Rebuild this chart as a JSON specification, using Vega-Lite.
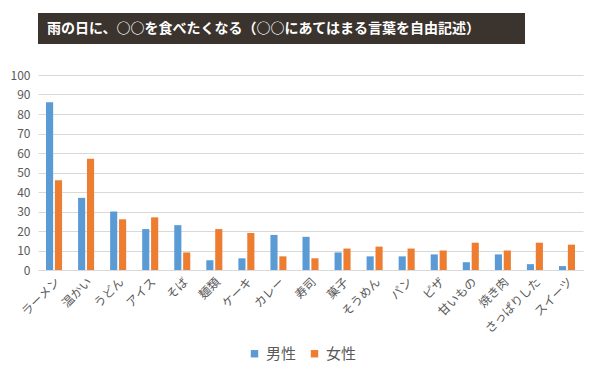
{
  "$schema": "https://vega.github.io/schema/vega-lite/v6.json",
  "padding": {"left": 10, "top": 13, "right": 5, "bottom": 5},
  "background": "#ffffff",
  "config": {
    "font": "Noto Sans CJK JP",
    "view": {"stroke": null}
  },
  "spacing": 25,
  "vconcat": [
    {
      "width": 487,
      "height": 31,
      "view": {"fill": "#3b332e", "stroke": null},
      "data": {"values": [{"t": "雨の日に、○○を食べたくなる（○○にあてはまる言葉を自由記述）"}]},
      "mark": {"type": "text", "align": "left", "baseline": "middle", "color": "#ffffff", "fontSize": 14, "fontWeight": "bold"},
      "encoding": {
        "text": {"field": "t", "type": "nominal"},
        "x": {"value": 9}
      }
    },
    {
      "width": 545,
      "height": 195,
      "data": {"values": [
        {"item": "ラーメン", "gender": "男性", "value": 86},
        {"item": "ラーメン", "gender": "女性", "value": 46},
        {"item": "温かい", "gender": "男性", "value": 37},
        {"item": "温かい", "gender": "女性", "value": 57},
        {"item": "うどん", "gender": "男性", "value": 30},
        {"item": "うどん", "gender": "女性", "value": 26},
        {"item": "アイス", "gender": "男性", "value": 21},
        {"item": "アイス", "gender": "女性", "value": 27},
        {"item": "そば", "gender": "男性", "value": 23},
        {"item": "そば", "gender": "女性", "value": 9},
        {"item": "麺類", "gender": "男性", "value": 5},
        {"item": "麺類", "gender": "女性", "value": 21},
        {"item": "ケーキ", "gender": "男性", "value": 6},
        {"item": "ケーキ", "gender": "女性", "value": 19},
        {"item": "カレー", "gender": "男性", "value": 18},
        {"item": "カレー", "gender": "女性", "value": 7},
        {"item": "寿司", "gender": "男性", "value": 17},
        {"item": "寿司", "gender": "女性", "value": 6},
        {"item": "菓子", "gender": "男性", "value": 9},
        {"item": "菓子", "gender": "女性", "value": 11},
        {"item": "そうめん", "gender": "男性", "value": 7},
        {"item": "そうめん", "gender": "女性", "value": 12},
        {"item": "パン", "gender": "男性", "value": 7},
        {"item": "パン", "gender": "女性", "value": 11},
        {"item": "ピザ", "gender": "男性", "value": 8},
        {"item": "ピザ", "gender": "女性", "value": 10},
        {"item": "甘いもの", "gender": "男性", "value": 4},
        {"item": "甘いもの", "gender": "女性", "value": 14},
        {"item": "焼き肉", "gender": "男性", "value": 8},
        {"item": "焼き肉", "gender": "女性", "value": 10},
        {"item": "さっぱりした", "gender": "男性", "value": 3},
        {"item": "さっぱりした", "gender": "女性", "value": 14},
        {"item": "スイーツ", "gender": "男性", "value": 2},
        {"item": "スイーツ", "gender": "女性", "value": 13}
      ]},
      "mark": {"type": "bar"},
      "encoding": {
        "x": {
          "field": "item", "type": "nominal", "sort": null,
          "scale": {"paddingInner": 0.5, "paddingOuter": 0.25},
          "axis": {"title": null, "labelAngle": -45, "labelFontSize": 12, "labelColor": "#595959", "ticks": false, "domainColor": "#d9d9d9", "labelPadding": 6}
        },
        "xOffset": {"field": "gender", "type": "nominal", "sort": ["男性", "女性"], "scale": {"paddingInner": 0.2}},
        "y": {
          "field": "value", "type": "quantitative",
          "scale": {"domain": [0, 100]},
          "axis": {"title": null, "values": [0, 10, 20, 30, 40, 50, 60, 70, 80, 90, 100], "domain": false, "ticks": false, "gridColor": "#d9d9d9", "labelColor": "#595959", "labelFontSize": 12, "labelPadding": 8}
        },
        "color": {
          "field": "gender", "type": "nominal", "sort": ["男性", "女性"],
          "scale": {"range": ["#5B9BD5", "#ED7D31"]},
          "legend": {"orient": "none", "legendX": 209, "legendY": 333, "direction": "horizontal", "title": null, "symbolType": "square", "symbolSize": 55, "labelFontSize": 15, "labelColor": "#595959", "columnPadding": 10}
        }
      }
    }
  ]
}
